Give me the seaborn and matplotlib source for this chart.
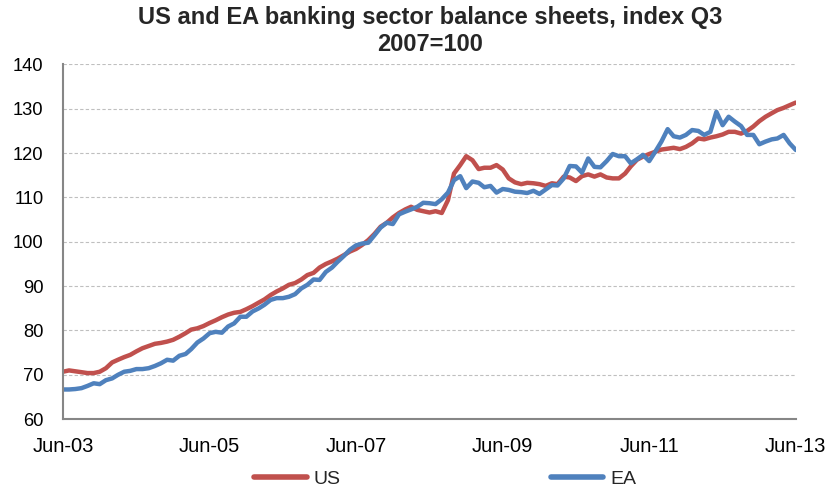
import matplotlib
matplotlib.use("Agg")
import matplotlib.pyplot as plt
import seaborn as sns
import pandas as pd
import numpy as np
from matplotlib.lines import Line2D

# Monthly data, Jun-2003 .. Jun-2013 (index Q3 2007 = 100)
us = [70.7, 71.0, 70.8, 70.6, 70.4, 70.4, 70.7, 71.5, 72.8, 73.4,
      74.0, 74.5, 75.3, 76.0, 76.5, 77.0, 77.2, 77.5, 77.9, 78.6,
      79.4, 80.2, 80.5, 81.0, 81.7, 82.3, 83.0, 83.6, 84.0, 84.2,
      84.8, 85.5, 86.3, 87.0, 88.0, 88.8, 89.5, 90.3, 90.7, 91.5,
      92.5, 93.0, 94.2, 95.0, 95.6, 96.2, 97.0, 97.8, 98.4, 99.3,
      100.4, 101.8, 103.4, 104.3, 105.5, 106.5, 107.3, 107.9, 107.2, 106.9,
      106.6, 106.9, 106.5, 109.4, 115.4, 117.3, 119.3, 118.4, 116.4, 116.7,
      116.7, 117.3, 116.3, 114.3, 113.4, 113.0, 113.3, 113.2, 113.0, 112.6,
      113.2, 113.0, 114.7, 114.5, 113.7, 114.8, 115.2, 114.7, 115.2, 114.5,
      114.3, 114.3, 115.4, 117.0, 118.5, 119.2, 119.8, 120.3, 120.8, 121.0,
      121.2, 120.9, 121.4, 122.2, 123.3, 123.1, 123.5, 123.8, 124.2, 124.8,
      124.8, 124.4, 125.0, 126.0, 127.2, 128.2, 129.0, 129.7, 130.2, 130.8,
      131.4]
ea = [66.7, 66.7, 66.8, 67.0, 67.5, 68.1, 67.9, 68.8, 69.2, 70.0,
      70.7, 70.9, 71.3, 71.3, 71.5, 72.0, 72.6, 73.4, 73.2, 74.3,
      74.7, 75.8, 77.3, 78.2, 79.4, 79.7, 79.5, 80.9, 81.6, 83.1,
      83.1, 84.3, 85.0, 85.8, 86.9, 87.3, 87.3, 87.6, 88.2, 89.5,
      90.3, 91.5, 91.4, 93.2, 94.2, 95.5, 96.8, 98.2, 99.2, 99.6,
      99.8, 101.5, 103.2, 104.3, 104.0, 106.2, 106.8, 107.3, 107.9, 108.8,
      108.7, 108.5, 109.6, 111.1, 113.9, 114.8, 112.1, 113.6, 113.3, 112.3,
      112.6, 111.1, 111.9, 111.7, 111.3, 111.2, 111.0, 111.5, 110.8, 111.8,
      112.8, 112.7, 114.3, 117.1, 117.0, 115.6, 118.8, 116.9, 116.8, 118.2,
      119.8, 119.3, 119.3, 117.7, 118.6, 119.6, 118.2, 120.3, 122.6, 125.4,
      123.8, 123.5, 124.1, 125.2, 125.0, 124.1, 124.8, 129.3, 126.3, 128.2,
      127.1, 126.1, 124.1, 124.1, 122.0, 122.6, 123.1, 123.3, 124.1, 122.2,
      120.7]
dates = pd.date_range("2003-06-01", periods=len(us), freq="MS")
series_names = ["US", "EA"]
colors = ["#C0504D", "#4F81BD"]
tick_labels = ["Jun-03", "Jun-05", "Jun-07", "Jun-09", "Jun-11", "Jun-13"]
tick_dates = pd.to_datetime(["2003-06-01", "2005-06-01", "2007-06-01",
                             "2009-06-01", "2011-06-01", "2013-06-01"])
title = "US and EA banking sector balance sheets, index Q3\n2007=100"

df = pd.DataFrame({
    "date": np.concatenate([dates, dates]),
    "value": us + ea,
    "series": ["US"] * len(us) + ["EA"] * len(ea),
})

sns.set_style("white")
plt.rcParams["font.family"] = ["Liberation Sans", "DejaVu Sans"]

fig = plt.figure(figsize=(8.29, 4.88), dpi=100)
ax = fig.add_axes([0.076, 0.141, 0.884, 0.727])

sns.lineplot(data=df, x="date", y="value", hue="series", hue_order=series_names,
             palette=colors, linewidth=3.2, ax=ax, legend=False)

ax.set_xlim(tick_dates[0], tick_dates[-1])
ax.set_ylim(60, 140)
ax.set_yticks(np.arange(60, 141, 10))
ax.set_xticks(tick_dates)
ax.set_xticklabels(tick_labels)
ax.set_xlabel("")
ax.set_ylabel("")

ax.yaxis.grid(True, color="#BFBFBF", linestyle=(0, (3, 2)), linewidth=0.8)
ax.xaxis.grid(False)
ax.set_axisbelow(True)
for s in ["top", "right"]:
    ax.spines[s].set_visible(False)
for s in ["left", "bottom"]:
    ax.spines[s].set_color("#868686")
    ax.spines[s].set_linewidth(1.5)
ax.tick_params(axis="both", which="major", direction="out", length=4.5,
               width=1.2, color="#868686", labelcolor="black")
ax.tick_params(axis="y", pad=9.5, labelsize=13.2)
ax.tick_params(axis="x", pad=8.5, labelsize=14.5)

fig.suptitle(title, fontsize=17, fontweight="bold", x=0.519, y=0.988,
             linespacing=1.22)

handles = [Line2D([], [], color=c, linewidth=4, solid_capstyle="round") for c in colors]
fig.legend(handles, series_names, loc="center", bbox_to_anchor=(0.537, 0.018),
           ncol=2, frameon=False, fontsize=14, handlelength=2.7,
           columnspacing=10.8, handletextpad=0.35)

fig.savefig("out.png", dpi=100)
